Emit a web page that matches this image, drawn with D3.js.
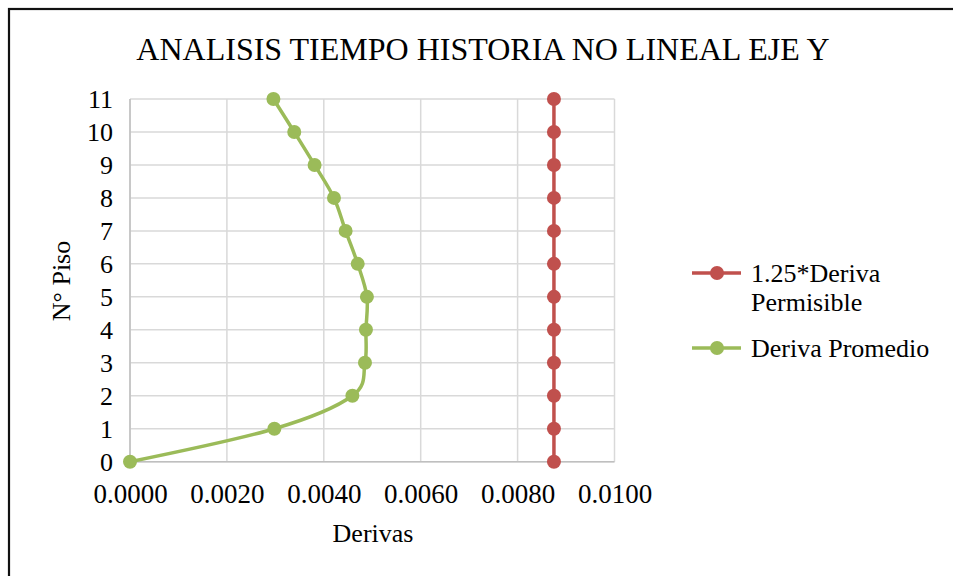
<!DOCTYPE html>
<html>
<head>
<meta charset="utf-8">
<script src="https://cdn.jsdelivr.net/npm/d3@7"></script>
<style>
  html, body { margin: 0; padding: 0; background: #fff; }
  svg { display: block; }
  text { font-family: "Liberation Serif", "Times New Roman", serif; fill: #000; }
</style>
</head>
<body>
<svg id="chart" width="953" height="576"></svg>
<script>
const floors = [0, 1, 2, 3, 4, 5, 6, 7, 8, 9, 10, 11];
const derivaPermisible = [0.00875, 0.00875, 0.00875, 0.00875, 0.00875, 0.00875, 0.00875, 0.00875, 0.00875, 0.00875, 0.00875, 0.00875];
const derivaPromedio = [0, 0.00298, 0.00459, 0.00485, 0.00487, 0.00489, 0.00470, 0.00445, 0.00421, 0.00381, 0.00339, 0.00296];
const xTicks = [0, 0.002, 0.004, 0.006, 0.008, 0.010];
const yTicks = [0, 1, 2, 3, 4, 5, 6, 7, 8, 9, 10, 11];
const seriesNames = ["1.25*Deriva Permisible", "Deriva Promedio"];
const seriesColors = ["#C0504D", "#9BBB59"];
const titleText = "ANALISIS TIEMPO HISTORIA NO LINEAL EJE Y";
const xTitle = "Derivas";
const yTitle = "N° Piso";

const svg = d3.select("#chart");

// outer border
svg.append("rect").attr("x", 9).attr("y", 9).attr("width", 1200).attr("height", 1200)
  .attr("fill", "none").attr("stroke", "#111").attr("stroke-width", 2.2);

const x = d3.scaleLinear().domain([0, 0.01]).range([130, 614.5]);
const y = d3.scaleLinear().domain([0, 11]).range([461.7, 99]);

// gridlines
const g = svg.append("g");
g.selectAll("line.vg").data(xTicks).enter().append("line")
  .attr("x1", d => x(d)).attr("x2", d => x(d))
  .attr("y1", y(0)).attr("y2", y(11))
  .attr("stroke", "#d9d9d9").attr("stroke-width", 1.5);
g.selectAll("line.hg").data(yTicks).enter().append("line")
  .attr("x1", x(0)).attr("x2", x(0.01))
  .attr("y1", d => y(d)).attr("y2", d => y(d))
  .attr("stroke", "#d9d9d9").attr("stroke-width", 1.5);
// axis lines
g.append("line").attr("x1", x(0)).attr("x2", x(0)).attr("y1", y(0)).attr("y2", y(11))
  .attr("stroke", "#bfbfbf").attr("stroke-width", 1.5);
g.append("line").attr("x1", x(0)).attr("x2", x(0.01)).attr("y1", y(0)).attr("y2", y(0))
  .attr("stroke", "#bfbfbf").attr("stroke-width", 1.5);

// axes (labels only)
const xAxis = d3.axisBottom(x).tickValues(xTicks).tickFormat(d3.format(".4f")).tickSize(0).tickPadding(0);
const xa = svg.append("g").attr("transform", `translate(0,${y(0) + 32})`).call(xAxis);
xa.select(".domain").remove();
xa.selectAll("text").attr("font-size", 27).attr("font-family", "Liberation Serif").attr("dy", "0.34em").attr("fill", "#000");

const yAxis = d3.axisLeft(y).tickValues(yTicks).tickFormat(d3.format("d")).tickSize(0).tickPadding(0);
const ya = svg.append("g").attr("transform", `translate(113,0)`).call(yAxis);
ya.select(".domain").remove();
ya.selectAll("text").attr("font-size", 26).attr("font-family", "Liberation Serif").attr("dy", "0.34em").attr("fill", "#000");

// title
svg.append("text").attr("x", 483).attr("y", 60).attr("text-anchor", "middle")
  .attr("font-size", 32).text(titleText);
svg.append("text").attr("x", 373).attr("y", 542).attr("text-anchor", "middle")
  .attr("font-size", 26).text(xTitle);
svg.append("text").attr("transform", "translate(70,281) rotate(-90)").attr("text-anchor", "middle")
  .attr("font-size", 26).text(yTitle);

// series
const series = [
  { name: seriesNames[0], color: seriesColors[0], values: derivaPermisible, curve: d3.curveLinear },
  { name: seriesNames[1], color: seriesColors[1], values: derivaPromedio, curve: d3.curveCardinal.tension(0) }
];
series.forEach(s => {
  const pts = floors.map((f, i) => [x(s.values[i]), y(f)]);
  svg.append("path").attr("d", d3.line().curve(s.curve)(pts))
    .attr("fill", "none").attr("stroke", s.color).attr("stroke-width", 3.5)
    .attr("stroke-linejoin", "round");
  svg.selectAll(null).data(pts).enter().append("circle")
    .attr("cx", d => d[0]).attr("cy", d => d[1]).attr("r", 7)
    .attr("fill", s.color);
});

// legend
const legendItems = [
  { color: seriesColors[0], lines: ["1.25*Deriva", "Permisible"], y: 273 },
  { color: seriesColors[1], lines: ["Deriva Promedio"], y: 348 }
];
legendItems.forEach(it => {
  svg.append("line").attr("x1", 692).attr("x2", 741).attr("y1", it.y).attr("y2", it.y)
    .attr("stroke", it.color).attr("stroke-width", 3.5);
  svg.append("circle").attr("cx", 717).attr("cy", it.y).attr("r", 7).attr("fill", it.color);
  it.lines.forEach((t, i) => {
    svg.append("text").attr("x", 751).attr("y", it.y + 9 + i * 29).attr("font-size", 26).text(t);
  });
});
</script>
</body>
</html>
